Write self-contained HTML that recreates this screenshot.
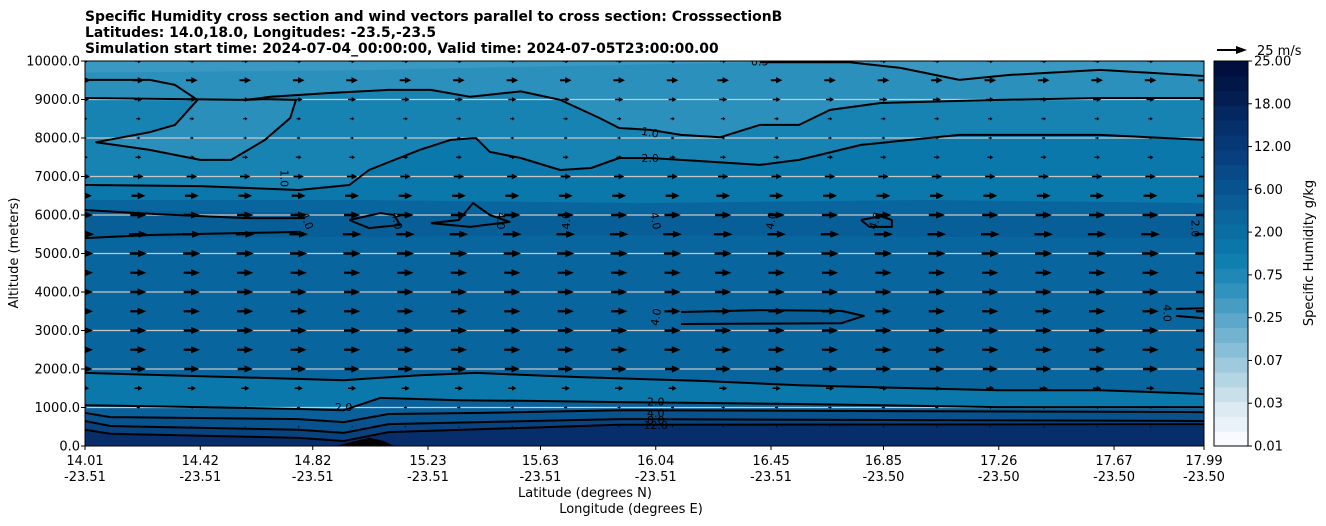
<!DOCTYPE html>
<html><head><meta charset="utf-8">
<style>
html,body{margin:0;padding:0;background:#fff;}
svg{display:block;font-family:"DejaVu Sans","Liberation Sans",sans-serif;}
</style></head>
<body>
<svg id="chart" width="1326" height="526" viewBox="0 0 1326 526" xmlns="http://www.w3.org/2000/svg">
<g font-weight="bold" font-size="13.9" fill="#000">
<text x="85" y="21">Specific Humidity cross section and wind vectors parallel to cross section: CrosssectionB</text>
<text x="85" y="37">Latitudes: 14.0,18.0, Longitudes: -23.5,-23.5</text>
<text x="85" y="53">Simulation start time: 2024-07-04_00:00:00, Valid time: 2024-07-05T23:00:00.00</text>
</g>
<defs><clipPath id="plotclip"><rect x="85" y="61" width="1119" height="385"/></clipPath></defs>
<g id="fills" clip-path="url(#plotclip)"></g>
<g id="grid"></g>
<g id="contours" clip-path="url(#plotclip)"></g>
<g id="vectors" clip-path="url(#plotclip)"></g>
<rect x="85" y="61" width="1119" height="385" fill="none" stroke="#000" stroke-width="1"/>
<g id="yaxis" font-size="13"></g>
<g id="xaxis" font-size="13"></g>
<text x="18" y="253" font-size="13" text-anchor="middle" transform="rotate(-90 18 253)">Altitude (meters)</text>
<text x="585" y="497" font-size="13" text-anchor="middle">Latitude (degrees N)</text>
<text x="631" y="513" font-size="13" text-anchor="middle">Longitude (degrees E)</text>
<g id="colorbar" font-size="13"></g>
<g>
<line x1="1217" y1="50" x2="1238" y2="50" stroke="#000" stroke-width="2"/>
<polygon points="1236,46 1247,50 1236,54" fill="#000"/>
<text x="1257" y="55" font-size="13">25 m/s</text>
</g>
<text x="1313" y="253" font-size="13" text-anchor="middle" transform="rotate(-90 1313 253)">Specific Humidity g/kg</text>
</svg>
<script>
// ---- data ----
const latTicks = [14.01,14.42,14.82,15.23,15.63,16.04,16.45,16.85,17.26,17.67,17.99];
const lonTicks = ["-23.51","-23.51","-23.51","-23.51","-23.51","-23.51","-23.51","-23.50","-23.50","-23.50","-23.50"];
const altTicks = [0,1000,2000,3000,4000,5000,6000,7000,8000,9000,10000];
const cbarLabels = ["0.01","0.03","0.07","0.25","0.75","2.00","6.00","12.00","18.00","25.00"];
const cbarColors = ["#f7fbff","#e9f2f7","#dceaf1","#c9e0ea","#b4d5e3","#9fcadd","#89bfd6","#72b3d0","#5ca7ca","#469cc3","#3292be","#2088b6","#0f7fb0","#0a76a9","#0a6ea3","#0a669d","#095c96","#08528f","#084987","#08407f","#073876","#06306c","#05275f","#041e52","#031648","#020f3e"];
const windAlts = [0,500,1000,1500,2000,2500,3000,3500,4000,4500,5000,5500,6000,6500,7000,7500,8000,8500,9000,9500,10000];
const windSpeeds = [0,1,3,7,13,14,14,14,14,14,15,16,14,12,9,5,3,4,7,10,6];
const windLats = [14.01,14.20,14.39,14.58,14.77,14.96,15.15,15.34,15.53,15.72,15.91,16.10,16.28,16.47,16.66,16.85,17.04,17.23,17.42,17.61,17.80,17.99];

const fillBase = "#3a99c2";
const fillTop05 = [[14.01,9700],[14.9,9750],[16.41,9970],[16.73,9970],[16.91,9820],[17.12,9510],[17.30,9640],[17.62,9770],[17.99,9610]];
const fillBelow1 = [[14.01,9510],[14.33,9380],[14.41,8990],[14.58,8990],[14.67,9070],[14.88,9170],[15.09,9250],[15.24,9250],[15.38,9070],[15.56,9210],[15.70,8990],[15.84,8520],[15.91,8260],[16.02,8210],[16.13,8080],[16.27,8020],[16.41,8340],[16.55,8340],[16.66,8730],[16.84,8910],[17.26,8990],[17.62,9040],[17.99,9040]];
const blob1 = [[14.01,9510],[14.24,9510],[14.33,9380],[14.41,8990],[14.33,8340],[14.24,8150],[14.05,7890],[14.24,7690],[14.42,7430],[14.53,7430],[14.65,7950],[14.74,8520],[14.76,8990],[14.65,9010],[14.58,8990],[14.01,9040]];
const line2upper = [[14.01,6780],[14.42,6750],[14.77,6650],[14.95,6780],[15.02,7170],[15.20,7690],[15.31,7950],[15.40,8000],[15.45,7640],[15.56,7480],[15.70,7170],[15.81,7220],[15.91,7480],[16.02,7480],[16.13,7430],[16.41,7300],[16.55,7430],[16.77,7820],[17.12,8080],[17.62,8080],[17.99,7950]];
const fillDark6 = [[14.01,6390],[15.0,6390],[16.0,6310],[17.0,6390],[17.99,6310]];
const band55 = [[14.01,6130],[14.9,6050],[16.0,6050],[17.0,6000],[17.99,6050],[17.99,5400],[16.0,5480],[14.01,5400]];
const lowLightTop = [[14.01,1900],[14.93,1710],[15.2,1840],[15.4,1900],[15.77,1790],[16.2,1690],[16.55,1580],[16.91,1510],[17.26,1450],[17.62,1450],[17.99,1350]];
const line2lower = [[14.01,1060],[14.42,1010],[14.77,960],[14.93,930],[15.06,1250],[15.34,1190],[15.63,1170],[15.91,1140],[16.55,1090],[17.26,1010],[17.99,1010]];
const line4 = [[14.01,860],[14.10,750],[14.77,700],[14.93,620],[15.09,830],[15.42,860],[15.91,930],[17.99,880]];
const line8 = [[14.01,650],[14.10,520],[14.77,420],[14.93,340],[15.09,570],[15.91,700],[17.99,650]];
const line12 = [[14.01,420],[14.10,320],[14.77,210],[14.93,130],[15.09,360],[15.91,550],[17.99,570]];
const hump = [[14.90,0],[14.97,130],[15.02,210],[15.07,140],[15.11,0]];
const line1right = fillBelow1.slice(3);
const line05 = fillTop05.slice(2);
const line4a = [[14.01,6130],[14.24,6030],[14.58,5920],[14.79,5920]];
const line4b = [[14.01,5400],[14.24,5480],[14.77,5560]];
const loop1 = [[14.95,5870],[15.06,6050],[15.11,6000],[15.13,5740],[15.02,5660],[14.95,5870]];
const loop2 = [[15.24,5790],[15.34,5870],[15.39,6310],[15.45,6000],[15.52,5820],[15.38,5690],[15.24,5790]];
const loop3 = [[16.77,5870],[16.84,5970],[16.88,5870],[16.88,5690],[16.80,5690],[16.77,5870]];
const loop4mid = [[16.13,3480],[16.41,3530],[16.70,3510],[16.78,3380],[16.70,3190],[16.13,3170]];
const line4r1 = [[17.89,3560],[17.99,3580]];
const line4r2 = [[17.89,3380],[17.99,3320]];

// ---- axes ----
const X0=85,X1=1204,Y0=446,Y1=61;
function xs(lat){return X0+(lat-14.01)/(17.99-14.01)*(X1-X0);}
function ys(alt){return Y0-alt/10000*(Y0-Y1);}
const NS="http://www.w3.org/2000/svg";
function mk(tag,attrs,parent){const e=document.createElementNS(NS,tag);for(const k in attrs)e.setAttribute(k,attrs[k]);parent.appendChild(e);return e;}
function pts(arr){return arr.map(p=>xs(p[0]).toFixed(1)+","+ys(p[1]).toFixed(1)).join(" ");}
function below(arr){return pts(arr)+" "+xs(arr[arr.length-1][0])+","+(Y0+5)+" "+xs(arr[0][0])+","+(Y0+5);}

const F=document.getElementById("fills");
let e;
e=mk("rect",{x:X0,y:Y1,width:X1-X0,height:Y0-Y1,fill:fillBase},F);


const fillDefs=[[fillTop05,"#2b90bb","fill-below-0.5"],[fillBelow1,"#1683b3","fill-below-1.0"],[line2upper,"#0a78ab","fill-below-2.0"],[fillDark6,"#09659d","fill-4-band"]];
fillDefs.forEach(d=>{e=mk("polygon",{points:below(d[0]),fill:d[1]},F);

});
e=mk("polygon",{points:pts(blob1),fill:"#2a8fbb"},F);


e=mk("polygon",{points:pts(band55),fill:"#085e97"},F);


e=mk("polygon",{points:pts(loop4mid),fill:"#085e97"},F);


e=mk("polygon",{points:pts(lowLightTop)+" "+pts(line2lower.slice().reverse()),fill:"#0a78ab"},F);


const lowDefs=[[line2lower,"#09609a","fill-below-low-2.0"],[line4,"#08528e","fill-below-4.0"],[line8,"#08427f","fill-below-8.0"],[line12,"#072e6b","fill-below-12.0"]];
lowDefs.forEach(d=>{e=mk("polygon",{points:below(d[0]),fill:d[1]},F);

});
e=mk("polygon",{points:pts(hump),fill:"#000"},F);



// grid
const G=document.getElementById("grid");
altTicks.forEach(a=>{if(a>0&&a<10000){e=mk("line",{x1:X0,x2:X1,y1:ys(a),y2:ys(a),stroke:"#c8c8c8","stroke-width":1.2},G);

}});

// contours
const C=document.getElementById("contours");
const lines=[[blob1,"contour-1.0-blob"],[line1right,"contour-1.0"],[line05,"contour-0.5"],[line2upper,"contour-2.0-upper"],[line4a,"contour-4.0-a"],[line4b,"contour-4.0-b"],[loop1,"contour-4.0-loop"],[loop2,"contour-4.0-loop"],[loop3,"contour-4.0-loop"],[loop4mid,"contour-4.0-mid"],[line4r1,"contour-4.0-right"],[line4r2,"contour-4.0-right"],[lowLightTop,"contour-2.0-low-upper"],[line2lower,"contour-2.0-low"],[line4,"contour-4.0-low"],[line8,"contour-8.0"],[line12,"contour-12.0"]];
lines.forEach(l=>{e=mk("polyline",{points:pts(l[0]),fill:"none",stroke:"#000","stroke-width":2,"stroke-linejoin":"round"},C);

});
const clabels=[[16.02,8150,"1.0",10],[16.02,7480,"2.0",0],[16.41,9990,"0.5",0],[14.80,5850,"4.0",70],[15.12,5850,"4.0",80],[15.49,5850,"4.0",90],[15.72,5850,"4.0",-90],[16.04,5850,"4.0",80],[16.45,5850,"4.0",-80],[16.82,5850,"4.0",-70],[17.96,5650,"2.0",90],[14.72,6950,"1.0",90],[16.04,3350,"4.0",-80],[17.86,3450,"4.0",90],[14.93,1010,"2.0",0],[16.04,1150,"2.0",0],[16.04,860,"4.0",0],[16.04,680,"8.0",0],[16.04,550,"12.0",0]];
clabels.forEach(c=>{const x=xs(c[0]),y=ys(c[1]);e=mk("text",{x:x,y:y+4,"font-size":11,"text-anchor":"middle",transform:"rotate("+c[3]+" "+x+" "+y+")"},C);e.textContent=c[2];

});

// vectors
const V=document.getElementById("vectors");
const pxPerMs=29/25;
windAlts.forEach((a,i)=>{const s=windSpeeds[i];if(s<=0)return;const L=s*pxPerMs;
 windLats.forEach(lat=>{const cx=xs(lat),cy=ys(a);const x0=cx-L/2,x1=cx+L/2;
  const hl=Math.min(9,L*0.55),hw=Math.min(3.6,0.8+L*0.2),sw=Math.min(1.2,0.3+L*0.06);
  const p=[[x0,cy-sw],[x1-hl,cy-sw],[x1-hl,cy-hw],[x1,cy],[x1-hl,cy+hw],[x1-hl,cy+sw],[x0,cy+sw]];
  e=mk("polygon",{points:p.map(q=>q[0].toFixed(1)+","+q[1].toFixed(1)).join(" "),fill:"#000"},V);
  
  
 });});

// y axis
const YA=document.getElementById("yaxis");
altTicks.forEach(a=>{const y=ys(a);mk("line",{x1:X0-4,x2:X0,y1:y,y2:y,stroke:"#000"},YA);
 e=mk("text",{x:X0-5,y:y+4.5,"text-anchor":"end"},YA);e.textContent=a.toFixed(1);
 
 });
// x axis
const XA=document.getElementById("xaxis");
latTicks.forEach((l,i)=>{const x=xs(l);mk("line",{x1:x,x2:x,y1:Y0,y2:Y0+4,stroke:"#000"},XA);
 e=mk("text",{x:x,y:Y0+19,"text-anchor":"middle"},XA);e.textContent=l.toFixed(2);
 
 
 e=mk("text",{x:x,y:Y0+35,"text-anchor":"middle"},XA);e.textContent=lonTicks[i];
 
 });
// colorbar
const CB=document.getElementById("colorbar");
const cbx=1214,cbw=34,n=cbarColors.length,bh=(Y0-Y1)/n;
cbarColors.forEach((c,i)=>{e=mk("rect",{x:cbx,y:Y0-(i+1)*bh,width:cbw,height:bh+0.5,fill:c},CB);
 
 });
mk("rect",{x:cbx,y:Y1,width:cbw,height:Y0-Y1,fill:"none",stroke:"#000"},CB);
cbarLabels.forEach((t,i)=>{const y=Y0-i*(Y0-Y1)/(cbarLabels.length-1);mk("line",{x1:cbx+cbw,x2:cbx+cbw+4,y1:y,y2:y,stroke:"#000"},CB);
 e=mk("text",{x:cbx+cbw+6,y:y+4.5},CB);e.textContent=t;
 
 });
</script>
</body></html>
